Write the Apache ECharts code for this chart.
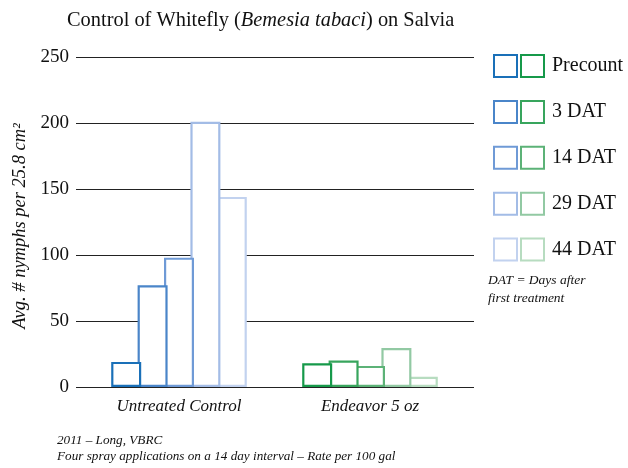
<!DOCTYPE html>
<html><head><meta charset="utf-8">
<script src="https://cdn.jsdelivr.net/npm/echarts@6/dist/echarts.min.js"></script>
<style>html,body{margin:0;padding:0;background:#fff}#c{width:628px;height:468px}</style>
</head><body><div id="c"></div>
<script>
var categories = ['Untreated Control', 'Endeavor 5 oz'];
var timepoints = ['Precount', '3 DAT', '14 DAT', '29 DAT', '44 DAT'];
var untreated = [19, 77, 98, 201, 144];
var endeavor = [18, 20, 16, 29.5, 7.8];
var yTicks = [0, 50, 100, 150, 200, 250];
var blues = ['#1a70b8', '#4a85c9', '#6f9ad6', '#a3bce6', '#c2d2ef'];
var greens = ['#16994a', '#38a55d', '#5cb277', '#92c9a3', '#b7dcc0'];

var serif = '"Liberation Serif", "Times New Roman", serif';
var yMin = yTicks[0], yMax = yTicks[yTicks.length - 1];
var series = [];
timepoints.forEach(function (t, i) {
  series.push({
    name: 'U|' + t, type: 'bar', stack: 's' + i, xAxisIndex: 1, yAxisIndex: 1,
    data: [untreated[i], '-'],
    barWidth: 30, barGap: '-12%', z: 20 - i,
    itemStyle: { color: '#fff', borderColor: blues[i], borderWidth: 2.2 }
  });
});
timepoints.forEach(function (t, i) {
  series.push({
    name: 'E|' + t, type: 'bar', stack: 's' + i, xAxisIndex: 1, yAxisIndex: 1,
    data: ['-', endeavor[i]],
    barWidth: 30, barGap: '-12%', z: 20 - i,
    itemStyle: { color: '#fff', borderColor: greens[i], borderWidth: 2.2 }
  });
});

var chart = echarts.init(document.getElementById('c'), null, { renderer: 'canvas' });
chart.setOption({
  animation: false,
  backgroundColor: '#fff',
  title: {
    left: 62, top: 6,
    text: '{n|Control of Whitefly (}{i|Bemesia tabaci}{n|) on Salvia}',
    textStyle: {
      rich: {
        n: { fontFamily: serif, fontSize: 20.4, fontWeight: 'normal', color: '#111' },
        i: { fontFamily: serif, fontSize: 20.4, fontWeight: 'normal', fontStyle: 'italic', color: '#111' }
      }
    }
  },
  grid: [
    { left: 76, right: 154, top: 57, bottom: 81, containLabel: false },
    { left: 83.5, right: 162.5, top: 57, bottom: 81, containLabel: false }
  ],
  legend: [{
    orient: 'vertical', left: 488, top: 49, itemWidth: 23, itemHeight: 22, itemGap: 21.9,
    icon: 'rect',
    data: timepoints.map(function (t) { return 'U|' + t; }),
    formatter: function () { return ''; },
    textStyle: { fontSize: 1, lineHeight: 22 }, selectedMode: false
  }, {
    orient: 'vertical', left: 515, top: 49, itemWidth: 23, itemHeight: 22, itemGap: 21.9,
    icon: 'rect',
    data: timepoints.map(function (t) { return 'E|' + t; }),
    formatter: function (n) { return n.split('|')[1]; },
    textStyle: { fontFamily: serif, fontSize: 20, lineHeight: 22, color: '#111', padding: [0, 0, 0, 3] },
    selectedMode: false
  }],
  xAxis: [{
    gridIndex: 0, type: 'category', data: categories, show: false
  }, {
    gridIndex: 1, type: 'category', data: categories,
    axisLine: { show: false }, axisTick: { show: false },
    axisLabel: { fontFamily: serif, fontStyle: 'italic', fontSize: 17, color: '#111', margin: 11 }
  }],
  yAxis: [{
    gridIndex: 0, type: 'value', min: yMin, max: yMax, interval: 50,
    name: 'Avg. # nymphs per 25.8 cm²', nameLocation: 'middle', nameGap: 46,
    nameTextStyle: { fontFamily: serif, fontStyle: 'italic', fontSize: 18.5, color: '#111', padding: [0, 8, 0, 0] },
    axisLine: { show: false }, axisTick: { show: false },
    axisLabel: { fontFamily: serif, fontSize: 19, color: '#111', margin: 7 },
    splitLine: { lineStyle: { color: '#222', width: 1.2 } }
  }, {
    gridIndex: 1, type: 'value', min: yMin, max: yMax, interval: 50, show: false,
    splitLine: { show: false }
  }],
  graphic: [
    { type: 'text', left: 488, top: 273, style: { text: 'DAT = Days after', font: 'italic 13.5px ' + serif, fill: '#111' } },
    { type: 'text', left: 488, top: 291, style: { text: 'first treatment', font: 'italic 13.5px ' + serif, fill: '#111' } },
    { type: 'text', left: 57, top: 434, style: { text: '2011 – Long, VBRC', font: 'italic 13.2px ' + serif, fill: '#111' } },
    { type: 'text', left: 57, top: 450, style: { text: 'Four spray applications on a 14 day interval – Rate per 100 gal', font: 'italic 13.2px ' + serif, fill: '#111' } }
  ],
  series: series
});
</script></body></html>
